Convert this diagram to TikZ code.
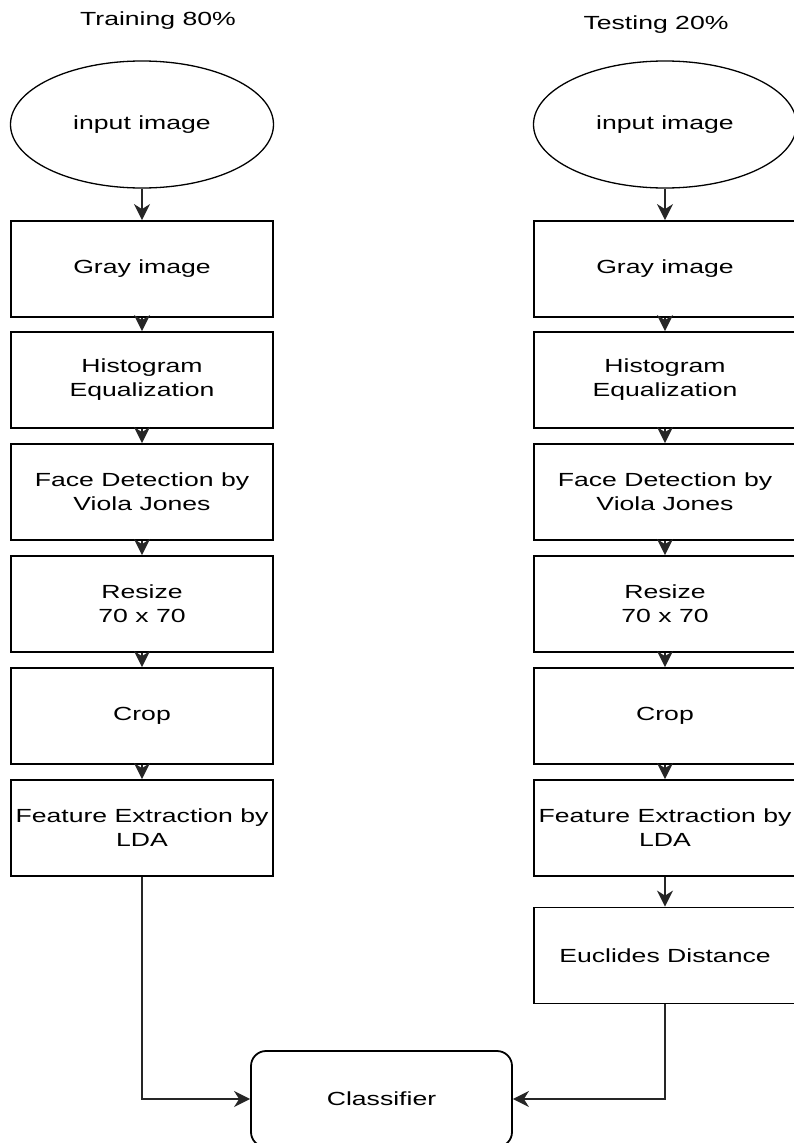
\documentclass[tikz,border=0pt]{standalone}
\usepackage{fontspec}
\setmainfont{Liberation Sans}
\newfontfamily\wfont[FakeStretch=1.4]{Liberation Sans}
\usetikzlibrary{shapes.geometric,arrows.meta}
\begin{document}
\begin{tikzpicture}[x=1pt,y=-1pt,
  txt/.style={font=\wfont\fontsize{19}{24}\selectfont, align=center, text=black},
  stepbox/.style={txt, draw=black, line width=1.8pt, minimum width=262pt, minimum height=96pt, inner sep=0pt},
  startoval/.style={txt, draw=black, line width=1.3pt, ellipse, minimum width=263pt, minimum height=127pt, inner sep=0pt},
  finalbox/.style={stepbox, rounded corners=15pt, minimum width=261pt},
  arr/.style={line width=2.2pt, draw=black!85, -{Stealth[length=16pt,width=16pt,inset=5pt]}}
]
\useasboundingbox (0,0) rectangle (793,1143);
% titles
\node[txt] (tl) at (158,21) {Training 80\%};
\node[txt] (tr) at (656,25) {Testing 20\%};
% left column
\node[startoval] (l0) at (142,124.5) {input image};
\node[stepbox] (l1) at (142,269) {Gray image};
\node[stepbox] (l2) at (142,380) {Histogram\\Equalization};
\node[stepbox] (l3) at (142,492) {Face Detection by\\Viola Jones};
\node[stepbox] (l4) at (142,604) {Resize\\70 x 70};
\node[stepbox] (l5) at (142,716) {Crop};
\node[stepbox] (l6) at (142,828) {Feature Extraction by\\LDA};
% right column
\node[startoval] (r0) at (665,124.5) {input image};
\node[stepbox] (r1) at (665,269) {Gray image};
\node[stepbox] (r2) at (665,380) {Histogram\\Equalization};
\node[stepbox] (r3) at (665,492) {Face Detection by\\Viola Jones};
\node[stepbox] (r4) at (665,604) {Resize\\70 x 70};
\node[stepbox] (r5) at (665,716) {Crop};
\node[stepbox] (r6) at (665,828) {Feature Extraction by\\LDA};
\node[stepbox] (r7) at (665,955.5) {Euclides Distance};
% classifier
\node[finalbox] (c) at (381.5,1099) {Classifier};
% connectors
\foreach \s in {l,r}{
  \draw[arr] (\s0.south) -- (\s1.north);
  \draw[arr] (\s1.south) -- (\s2.north);
  \draw[arr] (\s2.south) -- (\s3.north);
  \draw[arr] (\s3.south) -- (\s4.north);
  \draw[arr] (\s4.south) -- (\s5.north);
  \draw[arr] (\s5.south) -- (\s6.north);
}
\draw[arr] (r6.south) -- (r7.north);
\draw[arr] (l6.south) |- (c.west);
\draw[arr] (r7.south) |- (c.east);
\end{tikzpicture}
\end{document}
